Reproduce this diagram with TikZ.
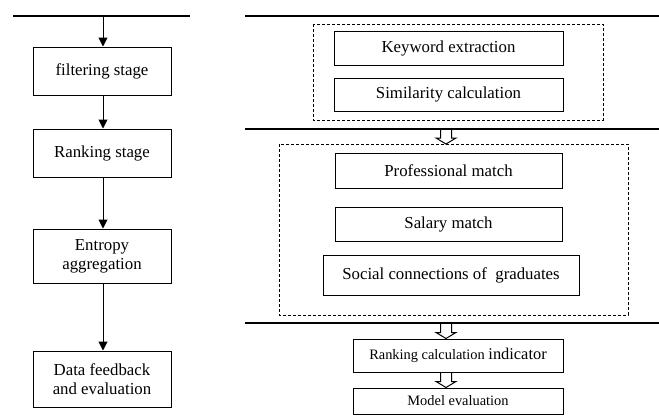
\documentclass[tikz,border=0pt]{standalone}
\usepackage{fontspec}
\setmainfont{Liberation Serif}
\usetikzlibrary{arrows.meta}

\tikzset{
  stagebox/.style={draw, line width=1pt, align=center, inner sep=0pt,
    font=\fontsize{16.8}{19}\selectfont},
  smallbox/.style={stagebox, font=\fontsize{14.4}{17}\selectfont},
  groupbox/.style={draw, line width=1pt, dash pattern=on 3pt off 2pt},
  sepline/.style={line width=1.1pt},
  flow/.style={line width=1pt, -{Triangle[width=9pt,length=9pt]}}
}

% hollow block arrow: top point, tip point
\newcommand{\blockarrow}[2]{%
  \draw[line width=1pt] ($#1+(-5.5,0)$) -- ($#2+(-5.5,-6)$) -- ($#2+(-10,-6)$)
    -- #2 -- ($#2+(10,-6)$) -- ($#2+(5.5,-6)$) -- ($#1+(5.5,0)$);%
}
\usetikzlibrary{calc}

\begin{document}
\begin{tikzpicture}[x=1pt,y=-1pt]
            \useasboundingbox (0,0) rectangle (659,416);

            % left column
            \coordinate (LL) at (13,16);
            \coordinate (LR) at (190,16);
            \coordinate (LS) at (103,16);
            \draw[sepline] (LL) -- (LR);

            \node[stagebox, minimum width=138pt, minimum height=48pt] (filter) at (102,71) {filtering stage};
            \node[stagebox, minimum width=138pt, minimum height=48pt] (rank) at (102,153) {Ranking stage};
            \node[stagebox, minimum width=138pt, minimum height=54pt] (entropy) at (102,256) {Entropy\\aggregation};
            \node[stagebox, minimum width=138pt, minimum height=56pt] (feedback) at (102,379) {Data feedback\\and evaluation};

            \draw[flow] (LS) -- (LS |- filter.north);
            \draw[flow] (LS |- filter.south) -- (LS |- rank.north);
            \draw[flow] (LS |- rank.south) -- (LS |- entropy.north);
            \draw[flow] (LS |- entropy.south) -- (LS |- feedback.north);

            % right column
            \coordinate (R1) at (245,16);
            \coordinate (R2) at (245,129);
            \coordinate (R3) at (245,323);
            \draw[sepline] (R1) -- (659,16);
            \draw[sepline] (R2) -- (659,129);
            \draw[sepline] (R3) -- (659,323);

            \draw[groupbox] (313,24) rectangle (603,120);
            \node[stagebox, minimum width=229pt, minimum height=34pt] (keyword) at (448.5,48) {Keyword extraction};
            \node[stagebox, minimum width=229pt, minimum height=33pt] (similar) at (448.5,94.5) {Similarity calculation};

            \draw[groupbox] (279,144) rectangle (628,315);
            \coordinate (G2) at (446,144);
            \node[stagebox, minimum width=227pt, minimum height=35pt] (prof) at (448.5,170.5) {Professional match};
            \node[stagebox, minimum width=227pt, minimum height=34pt] (salary) at (448.5,224) {Salary match};
            \node[stagebox, minimum width=256pt, minimum height=40pt] (social) at (451,275) {Social connections of~ graduates};

            \node[smallbox, minimum width=210pt, minimum height=33pt] (indicator) at (458,355.5) {Ranking calculation {\fontsize{16.4}{19}\selectfont indicator}};
            \node[smallbox, minimum width=210pt, minimum height=26pt] (model) at (458,401) {Model evaluation};

            \blockarrow{(446,129)}{(G2)}
            \blockarrow{(446,323)}{(446,0 |- indicator.north)}
            \blockarrow{(446,0 |- indicator.south)}{(446,0 |- model.north)}

        \end{tikzpicture}
\end{document}
